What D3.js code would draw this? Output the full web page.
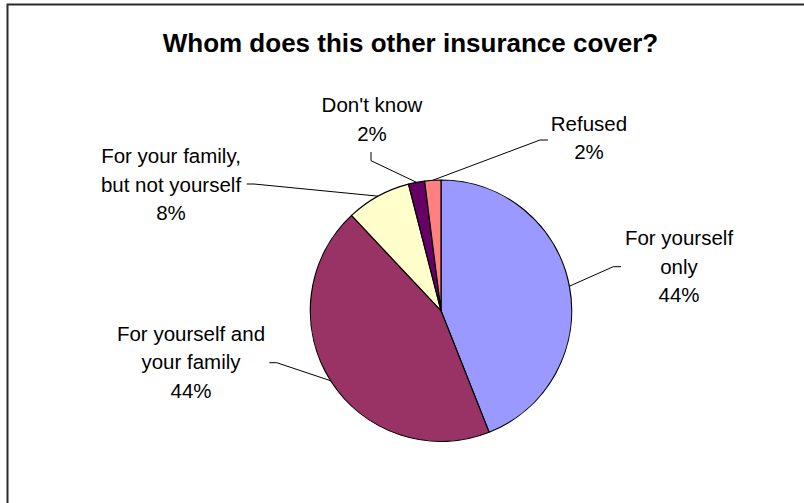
<!DOCTYPE html>
<html>
<head>
<meta charset="utf-8">
<script src="https://cdn.jsdelivr.net/npm/d3@7"></script>
<style>
  html, body { margin: 0; padding: 0; background: #fff; }
  svg { display: block; }
  text { font-family: "Liberation Sans", Arial, sans-serif; fill: #000; }
</style>
</head>
<body>
<svg id="chart" width="804" height="503"></svg>
<script>
// ---- data ----
const title = "Whom does this other insurance cover?";
const categories = [
  ["For yourself", "only"],
  ["For yourself and", "your family"],
  ["For your family,", "but not yourself"],
  ["Don't know"],
  ["Refused"]
];
const values = [44, 44, 8, 2, 2];
const colors = ["#9999FF", "#993366", "#FFFFCC", "#660066", "#FF8080"];

// ---- layout (positions only) ----
const W = 804, H = 503;
const cx = 441, cy = 310.7, R = 130.7;
const labelLayout = [
  { x: 679, y0: 245,   elbow: [613.3, 266.7], end: [621, 266.7] },
  { x: 191, y0: 340.7, elbow: [276.7, 362.7], end: [269.3, 362.7] },
  { x: 171, y0: 163,   elbow: [254, 184],     end: [246.7, 184] },
  { x: 372, y0: 112,   elbow: [371, 160.7],   end: [371, 152] },
  { x: 589, y0: 130.5, elbow: [540, 140],     end: [548, 140] }
];
const lineH = 28.6;

const svg = d3.select("#chart");

// frame
svg.append("rect")
  .attr("x", 7.5).attr("y", 4.5)
  .attr("width", 820).attr("height", 520)
  .attr("fill", "#fff")
  .attr("stroke", "#2a2a2a")
  .attr("stroke-width", 2);

// title
svg.append("text")
  .attr("x", 410.5).attr("y", 52.3)
  .attr("text-anchor", "middle")
  .style("font-size", "26px")
  .style("font-weight", "bold")
  .text(title);

const total = d3.sum(values);
const pie = d3.pie().sort(null).value(d => d).startAngle(0).endAngle(2 * Math.PI);
const arcs = pie(values);
const arc = d3.arc().innerRadius(0).outerRadius(R);
const edgeArc = d3.arc().innerRadius(R).outerRadius(R);

const g = svg.append("g").attr("transform", `translate(${cx},${cy})`);

g.selectAll("path.slice")
  .data(arcs)
  .join("path")
  .attr("class", "slice")
  .attr("d", arc)
  .attr("fill", (d, i) => colors[i])
  .attr("stroke", "#000")
  .attr("stroke-width", 1.2)
  .attr("stroke-linejoin", "round");

// leader lines
const line = d3.line();
svg.selectAll("path.leader")
  .data(arcs)
  .join("path")
  .attr("class", "leader")
  .attr("d", (d, i) => {
    const c = edgeArc.centroid(d);
    const L = labelLayout[i];
    return line([[cx + c[0], cy + c[1]], L.elbow, L.end]);
  })
  .attr("fill", "none")
  .attr("stroke", "#000")
  .attr("stroke-width", 1);

// labels
const pct = d3.format(".0%");
const lg = svg.selectAll("text.lbl")
  .data(arcs)
  .join("text")
  .attr("class", "lbl")
  .attr("text-anchor", "middle")
  .style("font-size", "20.5px");

lg.each(function(d, i) {
  const t = d3.select(this);
  const L = labelLayout[i];
  const lines = categories[i].concat([pct(values[i] / total)]);
  lines.forEach((s, k) => {
    t.append("tspan")
      .attr("x", L.x)
      .attr("y", L.y0 + k * lineH)
      .text(s);
  });
});
</script>
</body>
</html>
